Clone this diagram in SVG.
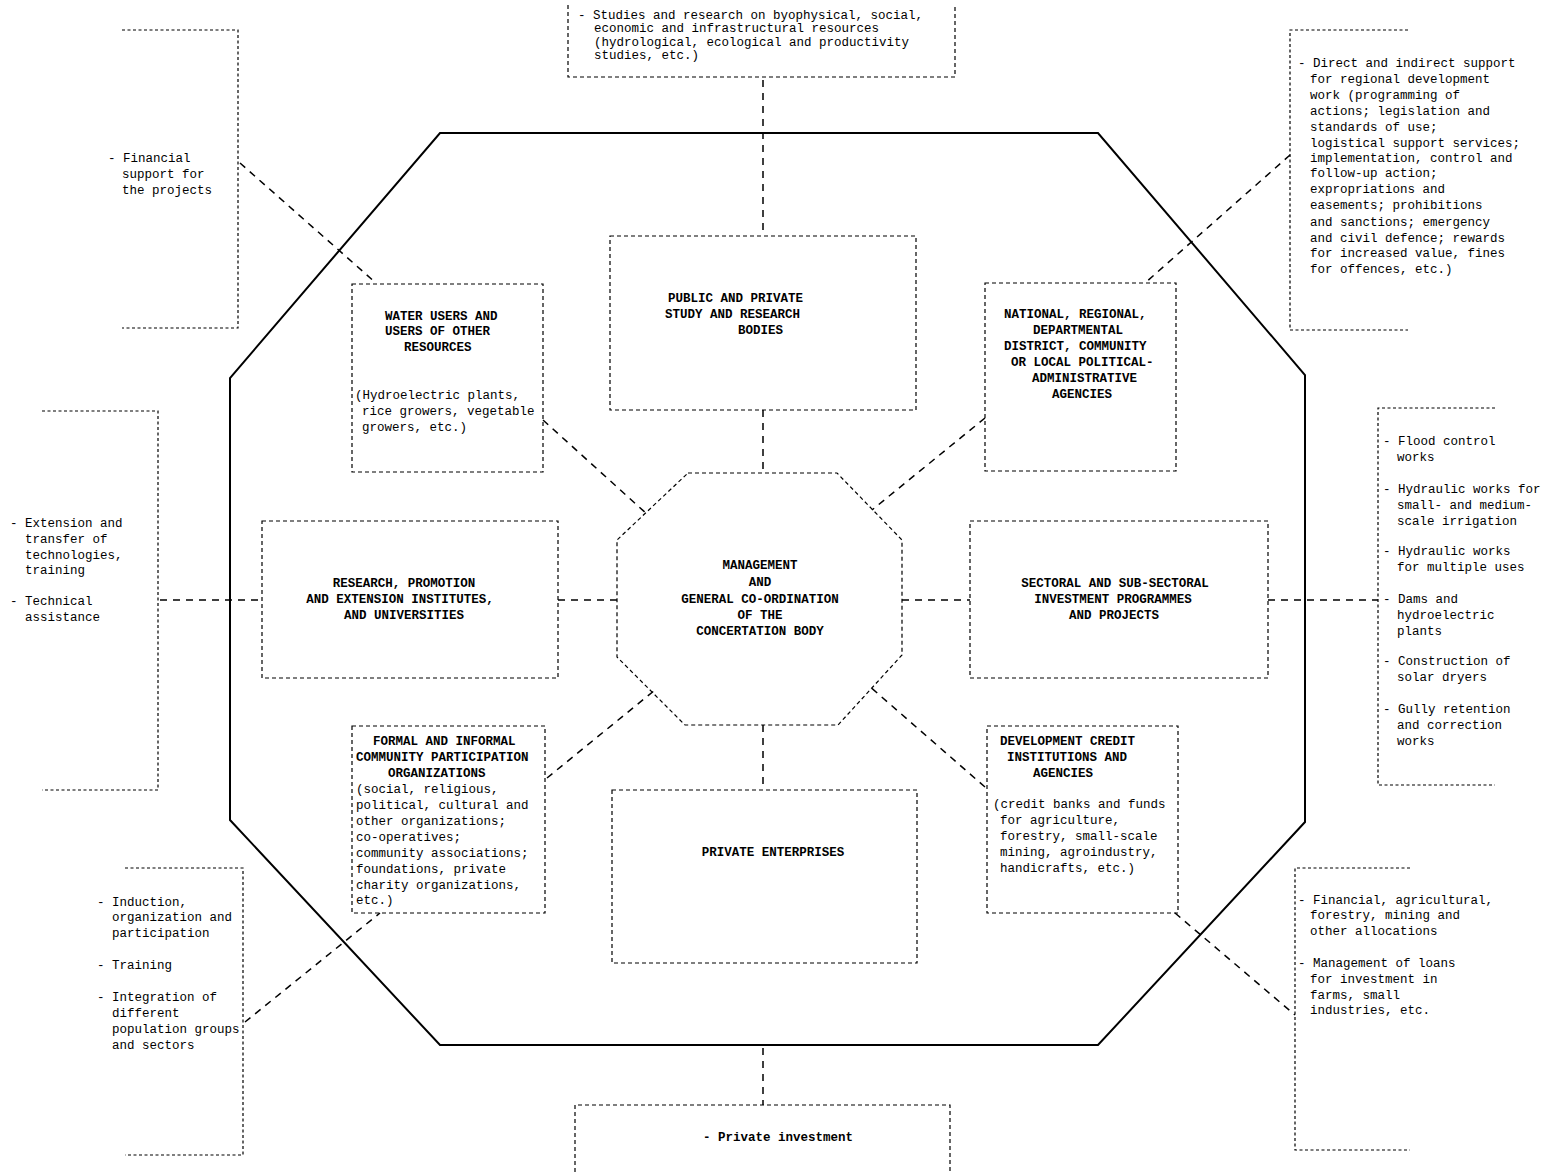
<svg xmlns="http://www.w3.org/2000/svg" width="1544" height="1172" viewBox="0 0 1544 1172">
<style>
text{font-family:"Liberation Mono","DejaVu Sans Mono",monospace;font-size:12.5px;fill:#000}
.t{font-weight:bold}
.m{text-anchor:middle}
.box{fill:none;stroke:#000;stroke-width:1.2;stroke-dasharray:4 3}
.br{fill:none;stroke:#000;stroke-width:1.2;stroke-dasharray:3 2.5}
.con{fill:none;stroke:#000;stroke-width:1.5;stroke-dasharray:7 6}
</style>
<rect width="1544" height="1172" fill="#fff"/>
<g id="frame">
<polygon points="440,133 1098,133 1305,375 1305,822 1098,1045 440,1045 230,820 230,378" fill="none" stroke="#000" stroke-width="2"/>
</g>
<g id="connectors">
<line class="con" x1="763" y1="80" x2="763" y2="236"/>
<line class="con" x1="763" y1="410" x2="763" y2="473"/>
<line class="con" x1="763" y1="725" x2="763" y2="790"/>
<line class="con" x1="763" y1="1048" x2="763" y2="1105"/>
<line class="con" x1="543" y1="420" x2="648" y2="515"/>
<line class="con" x1="985" y1="418" x2="872" y2="510"/>
<line class="con" x1="547" y1="778" x2="655" y2="690"/>
<line class="con" x1="985" y1="787" x2="868" y2="685"/>
<line class="con" x1="558" y1="600" x2="617" y2="600"/>
<line class="con" x1="902" y1="600" x2="970" y2="600"/>
<line class="con" x1="160" y1="600" x2="262" y2="600"/>
<line class="con" x1="1268" y1="600" x2="1378" y2="600"/>
<line class="con" x1="240" y1="163" x2="376" y2="283"/>
<line class="con" x1="1290" y1="155" x2="1145" y2="283"/>
<line class="con" x1="245" y1="1022" x2="380" y2="913"/>
<line class="con" x1="1175" y1="913" x2="1295" y2="1015"/>
</g>
<g id="studies">
<path class="box" d="M568,5 V77 H955 V5"/>
<text x="578" y="19">- Studies and research on byophysical, social,</text>
<text x="594" y="32">economic and infrastructural resources</text>
<text x="594" y="46">(hydrological, ecological and productivity</text>
<text x="594" y="59">studies, etc.)</text>
</g>
<g id="public">
<rect class="box" x="610" y="236" width="306" height="174"/>
<text class="t" x="668" y="302">PUBLIC AND PRIVATE</text>
<text class="t" x="665" y="318">STUDY AND RESEARCH</text>
<text class="t" x="738" y="334">BODIES</text>
</g>
<g id="water">
<rect class="box" x="352" y="284" width="191" height="188"/>
<text class="t" x="385" y="320">WATER USERS AND</text>
<text class="t" x="385" y="335">USERS OF OTHER</text>
<text class="t" x="404" y="351">RESOURCES</text>
<text x="355" y="399">(Hydroelectric plants,</text>
<text x="362" y="415">rice growers, vegetable</text>
<text x="362" y="431">growers, etc.)</text>
</g>
<g id="national">
<rect class="box" x="985" y="283" width="191" height="188"/>
<text class="t" x="1004" y="318">NATIONAL, REGIONAL,</text>
<text class="t" x="1033" y="334">DEPARTMENTAL</text>
<text class="t" x="1004" y="350">DISTRICT, COMMUNITY</text>
<text class="t" x="1011" y="366">OR LOCAL POLITICAL-</text>
<text class="t" x="1032" y="382">ADMINISTRATIVE</text>
<text class="t" x="1052" y="398">AGENCIES</text>
</g>
<g id="research">
<rect class="box" x="262" y="521" width="296" height="157"/>
<text class="t m" x="404" y="587">RESEARCH, PROMOTION</text>
<text class="t m" x="400" y="603">AND EXTENSION INSTITUTES,</text>
<text class="t m" x="404" y="619">AND UNIVERSITIES</text>
</g>
<g id="management">
<polygon class="box" points="688,473 837,473 902,540 902,655 838,725 685,725 617,657 617,540"/>
<text class="t m" x="760" y="569">MANAGEMENT</text>
<text class="t m" x="760" y="586">AND</text>
<text class="t m" x="760" y="603">GENERAL CO-ORDINATION</text>
<text class="t m" x="760" y="619">OF THE</text>
<text class="t m" x="760" y="635">CONCERTATION BODY</text>
</g>
<g id="sectoral">
<rect class="box" x="970" y="521" width="298" height="157"/>
<text class="t m" x="1115" y="587">SECTORAL AND SUB-SECTORAL</text>
<text class="t m" x="1113" y="603">INVESTMENT PROGRAMMES</text>
<text class="t m" x="1114" y="619">AND PROJECTS</text>
</g>
<g id="community">
<rect class="box" x="352" y="726" width="193" height="187"/>
<text class="t" x="373" y="745">FORMAL AND INFORMAL</text>
<text class="t" x="356" y="761">COMMUNITY PARTICIPATION</text>
<text class="t" x="388" y="777">ORGANIZATIONS</text>
<text x="356" y="793">(social, religious,</text>
<text x="356" y="809">political, cultural and</text>
<text x="356" y="825">other organizations;</text>
<text x="356" y="841">co-operatives;</text>
<text x="356" y="857">community associations;</text>
<text x="356" y="873">foundations, private</text>
<text x="356" y="889">charity organizations,</text>
<text x="356" y="904">etc.)</text>
</g>
<g id="private-enterprises">
<rect class="box" x="612" y="790" width="305" height="173"/>
<text class="t m" x="773" y="856">PRIVATE ENTERPRISES</text>
</g>
<g id="credit">
<rect class="box" x="987" y="726" width="191" height="187"/>
<text class="t" x="1000" y="745">DEVELOPMENT CREDIT</text>
<text class="t" x="1007" y="761">INSTITUTIONS AND</text>
<text class="t" x="1033" y="777">AGENCIES</text>
<text x="993" y="808">(credit banks and funds</text>
<text x="1000" y="824">for agriculture,</text>
<text x="1000" y="840">forestry, small-scale</text>
<text x="1000" y="856">mining, agroindustry,</text>
<text x="1000" y="872">handicrafts, etc.)</text>
</g>
<g id="private-investment">
<path class="box" d="M575,1172 V1105 H950 V1172"/>
<text class="t m" x="778" y="1141">- Private investment</text>
</g>
<g id="financial-support">
<path class="br" d="M122,30 H238 V328 H122"/>
<text x="108" y="162">- Financial</text>
<text x="122" y="178">support for</text>
<text x="122" y="194">the projects</text>
</g>
<g id="extension">
<path class="br" d="M42,411 H158 V790 H42"/>
<text x="10" y="527">- Extension and</text>
<text x="25" y="543">transfer of</text>
<text x="25" y="559">technologies,</text>
<text x="25" y="574">training</text>
<text x="10" y="605">- Technical</text>
<text x="25" y="621">assistance</text>
</g>
<g id="induction">
<path class="br" d="M125,868 H243 V1155 H125"/>
<text x="97" y="906">- Induction,</text>
<text x="112" y="921">organization and</text>
<text x="112" y="937">participation</text>
<text x="97" y="969">- Training</text>
<text x="97" y="1001">- Integration of</text>
<text x="112" y="1017">different</text>
<text x="112" y="1033">population groups</text>
<text x="112" y="1049">and sectors</text>
</g>
<g id="direct-support">
<path class="br" d="M1408,30 H1290 V330 H1408"/>
<text x="1298" y="67">- Direct and indirect support</text>
<text x="1310" y="83">for regional development</text>
<text x="1310" y="99">work (programming of</text>
<text x="1310" y="115">actions; legislation and</text>
<text x="1310" y="131">standards of use;</text>
<text x="1310" y="147">logistical support services;</text>
<text x="1310" y="162">implementation, control and</text>
<text x="1310" y="177">follow-up action;</text>
<text x="1310" y="193">expropriations and</text>
<text x="1310" y="209">easements; prohibitions</text>
<text x="1310" y="226">and sanctions; emergency</text>
<text x="1310" y="242">and civil defence; rewards</text>
<text x="1310" y="257">for increased value, fines</text>
<text x="1310" y="273">for offences, etc.)</text>
</g>
<g id="works">
<path class="br" d="M1495,408 H1378 V785 H1495"/>
<text x="1383" y="445">- Flood control</text>
<text x="1397" y="461">works</text>
<text x="1383" y="493">- Hydraulic works for</text>
<text x="1397" y="509">small- and medium-</text>
<text x="1397" y="525">scale irrigation</text>
<text x="1383" y="555">- Hydraulic works</text>
<text x="1397" y="571">for multiple uses</text>
<text x="1383" y="603">- Dams and</text>
<text x="1397" y="619">hydroelectric</text>
<text x="1397" y="635">plants</text>
<text x="1383" y="665">- Construction of</text>
<text x="1397" y="681">solar dryers</text>
<text x="1383" y="713">- Gully retention</text>
<text x="1397" y="729">and correction</text>
<text x="1397" y="745">works</text>
</g>
<g id="allocations">
<path class="br" d="M1410,868 H1295 V1150 H1410"/>
<text x="1298" y="904">- Financial, agricultural,</text>
<text x="1310" y="919">forestry, mining and</text>
<text x="1310" y="935">other allocations</text>
<text x="1298" y="967">- Management of loans</text>
<text x="1310" y="983">for investment in</text>
<text x="1310" y="999">farms, small</text>
<text x="1310" y="1014">industries, etc.</text>
</g>
</svg>
